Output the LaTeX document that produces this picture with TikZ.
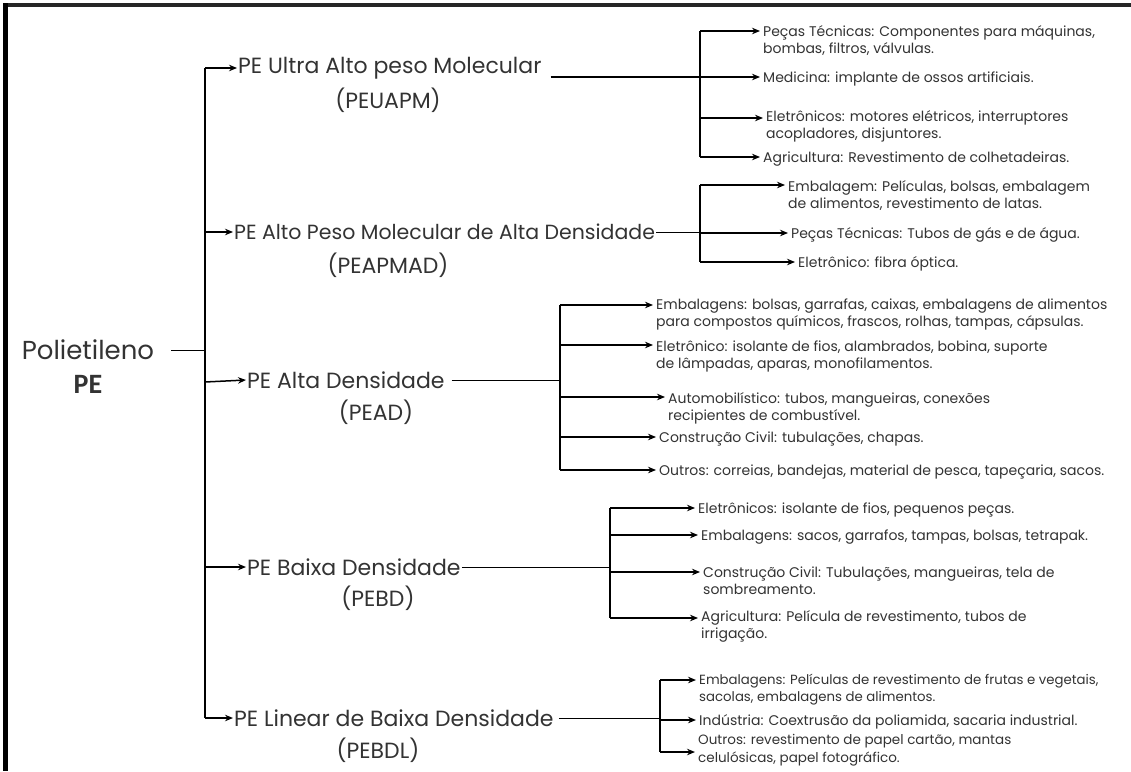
\documentclass[tikz,border=0pt]{standalone}
\usepackage{fontspec}
\setmainfont{Poppins}
\newfontfamily\pefont{Carlito}
\usetikzlibrary{arrows.meta}
\definecolor{ink}{HTML}{333333}
\begin{document}
\begin{tikzpicture}[x=1pt,y=-1pt,
  title/.style={font=\fontsize{22}{26}\selectfont, text=ink, inner sep=1pt},
  root/.style={font=\fontsize{26}{30}\selectfont, text=ink, inner sep=1pt},
  pebold/.style={font=\pefont\bfseries\fontsize{28}{30}\selectfont, text=ink, inner sep=1pt},
  leaf/.style={font=\fontsize{14}{17}\selectfont, text=ink, align=left, inner sep=1pt, anchor=base west},
  arr/.style={-{Stealth[length=8pt,width=6.5pt]}, line width=1.9pt, shorten >=2pt},
  arrT/.style={-{Stealth[length=8pt,width=6.5pt]}, line width=1.5pt},
  brk/.style={line width=1.3pt},
  thin/.style={line width=0.8pt},
  trunk/.style={line width=1.2pt}]
\useasboundingbox (0,0) rectangle (1131,771);
\fill[white] (0,0) rectangle (1131,771);
% frame
\draw[line width=4pt, black!85] (3,5) -- (1131,5);
\draw[line width=5pt, black] (5,3) -- (5,771);

% root
\node[root] (pol) at (88,350) {Polietileno};
\node[pebold] (pe) at (88,384) {PE};
\coordinate (k0) at (205,350);
\coordinate (k1) at (205,68);
\coordinate (k2) at (205,232);
\coordinate (k3) at (205,382);
\coordinate (k4) at (205,567);
\coordinate (k5) at (205,718);
\draw[trunk] (k1) -- (k5);
\coordinate (pole) at ([xshift=16pt]pol.east);
\draw[thin] (pole) -- (k0);

% titles
\node[title, anchor=west] (t1) at (237,68) {PE Ultra Alto peso Molecular};
\node[title] (a1) at (388,100) {(PEUAPM)};
\node[title, anchor=west, font=\fontsize{20.5}{24}\selectfont] (t2) at (233,232) {PE Alto Peso Molecular de Alta Densidade};
\node[title] (a2) at (388,265) {(PEAPMAD)};
\node[title, anchor=west] (t3) at (246,380) {PE Alta Densidade};
\node[title] (a3) at (376,412) {(PEAD)};
\node[title, anchor=west] (t4) at (246,567) {PE Baixa Densidade};
\node[title] (a4) at (378,598) {(PEBD)};
\node[title, anchor=west] (t5) at (233,718) {PE Linear de Baixa Densidade};
\node[title] (a5) at (378,750) {(PEBDL)};

\draw[arrT] (k1) -- (t1.west);
\draw[arrT] (k2) -- (t2.west);
\draw[arrT] (k3) -- (t3.west);
\draw[arrT] (k4) -- (t4.west);
\draw[arrT] (k5) -- (t5.west);

% ---- group 1
\begin{scope}[every node/.append style={font=\fontsize{13.3}{17}\selectfont}]
\coordinate (b1a) at (700,31);
\coordinate (b1b) at (700,77);
\coordinate (b1c) at (700,118);
\coordinate (b1d) at (700,157);
\draw[brk] (b1a) -- (b1d);
\node[leaf] (l1a) at (762,53) {Peças Técnicas: Componentes para máquinas,\\bombas, filtros, válvulas.};
\node[leaf] (l1b) at (762,82) {Medicina: implante de ossos artificiais.};
\node[leaf] (l1c) at (765,138) {Eletrônicos: motores elétricos, interruptores\\acopladores, disjuntores.};
\node[leaf] (l1d) at (762,162) {Agricultura: Revestimento de colhetadeiras.};
\coordinate (t1e) at ([xshift=8pt]t1.east);
\draw[arr] (b1a) -- (b1a -| l1a.west);
\draw[arr] (t1e |- b1b) -- (b1b -| l1b.west);
\draw[arr] (b1c) -- (b1c -| l1c.west);
\draw[arr] (b1d) -- (b1d -| l1d.west);
\end{scope}

% ---- group 2
\begin{scope}[every node/.append style={font=\fontsize{14.5}{17}\selectfont}]
\coordinate (b2a) at (700,185);
\coordinate (b2b) at (700,233);
\coordinate (b2c) at (700,262);
\draw[brk] (b2a) -- (b2c);
\draw[thin] (t2.east) -- (t2.east -| b2b);
\node[leaf] (l2a) at (787,208) {Embalagem: Películas, bolsas, embalagem\\de alimentos, revestimento de latas.};
\node[leaf] (l2b) at (790,238) {Peças Técnicas: Tubos de gás e de água.};
\node[leaf] (l2c) at (797,267) {Eletrônico: fibra óptica.};
\draw[arr] (b2a) -- (b2a -| l2a.west);
\draw[arr] (b2b) -- (b2b -| l2b.west);
\draw[arr] (b2c) -- (b2c -| l2c.west);
\end{scope}

% ---- group 3
\begin{scope}[every node/.append style={font=\fontsize{14}{18}\selectfont}]
\coordinate (b3a) at (560,305);
\coordinate (b3b) at (560,345);
\coordinate (b3c) at (560,397);
\coordinate (b3d) at (560,437);
\coordinate (b3e) at (560,470);
\draw[brk] (b3a) -- (b3e);
\draw[thin] ([xshift=6pt]t3.east) -- (t3.east -| b3a);
\node[leaf] (l3a) at (655,326) {Embalagens: bolsas, garrafas, caixas, embalagens de alimentos\\para compostos químicos, frascos, rolhas, tampas, cápsulas.};
\node[leaf] (l3b) at (655,368) {Eletrônico: isolante de fios, alambrados, bobina, suporte\\de lâmpadas, aparas, monofilamentos.};
\node[leaf] (l3c) at (667,420) {Automobilístico: tubos, mangueiras, conexões\\recipientes de combustível.};
\node[leaf] (l3d) at (658,442) {Construção Civil: tubulações, chapas.};
\node[leaf] (l3e) at (658,475) {Outros: correias, bandejas, material de pesca, tapeçaria, sacos.};
\draw[arr] (b3a) -- (b3a -| l3a.west);
\draw[arr] (b3b) -- (b3b -| l3b.west);
\draw[arr] (b3c) -- (b3c -| l3c.west);
\draw[arr] (b3d) -- (b3d -| l3d.west);
\draw[arr] (b3e) -- (b3e -| l3e.west);
\end{scope}

% ---- group 4
\begin{scope}[every node/.append style={font=\fontsize{14.5}{18}\selectfont}]
\coordinate (b4a) at (610,508);
\coordinate (b4b) at (610,535);
\coordinate (b4c) at (610,572);
\coordinate (b4d) at (610,618);
\draw[brk] (b4a) -- (b4d);
\draw[thin] (t4.east) -- (t4.east -| b4a);
\node[leaf] (l4a) at (697,513) {Eletrônicos: isolante de fios, pequenos peças.};
\node[leaf] (l4b) at (700,540) {Embalagens: sacos, garrafos, tampas, bolsas, tetrapak.};
\node[leaf] (l4c) at (702,594) {Construção Civil: Tubulações, mangueiras, tela de\\sombreamento.};
\node[leaf] (l4d) at (700,638) {Agricultura: Película de revestimento, tubos de\\irrigação.};
\draw[arr] (b4a) -- (b4a -| l4a.west);
\draw[arr] (b4b) -- (b4b -| l4b.west);
\draw[arr] (b4c) -- (b4c -| l4c.west);
\draw[arr] (b4d) -- (b4d -| l4d.west);
\end{scope}

% ---- group 5
\coordinate (b5a) at (660,680);
\coordinate (b5b) at (660,720);
\coordinate (b5c) at (660,752);
\draw[brk] (b5a) -- (b5c);
\draw[thin] ([xshift=4pt]t5.east) -- (t5.east -| b5a);
\node[leaf, font=\fontsize{13.3}{17}\selectfont] (l5a) at (698,701) {Embalagens: Películas de revestimento de frutas e vegetais,\\sacolas, embalagens de alimentos.};
\node[leaf] (l5b) at (698,725) {Indústria: Coextrusão da poliamida, sacaria industrial.};
\node[leaf, font=\fontsize{13.5}{18}\selectfont] (l5c) at (697,762) {Outros: revestimento de papel cartão, mantas\\celulósicas, papel fotográfico.};
\draw[arr] (b5a) -- (b5a -| l5a.west);
\draw[arr] (b5b) -- (b5b -| l5b.west);
\draw[arr] (b5c) -- (b5c -| l5c.west);
\end{tikzpicture}
\end{document}
